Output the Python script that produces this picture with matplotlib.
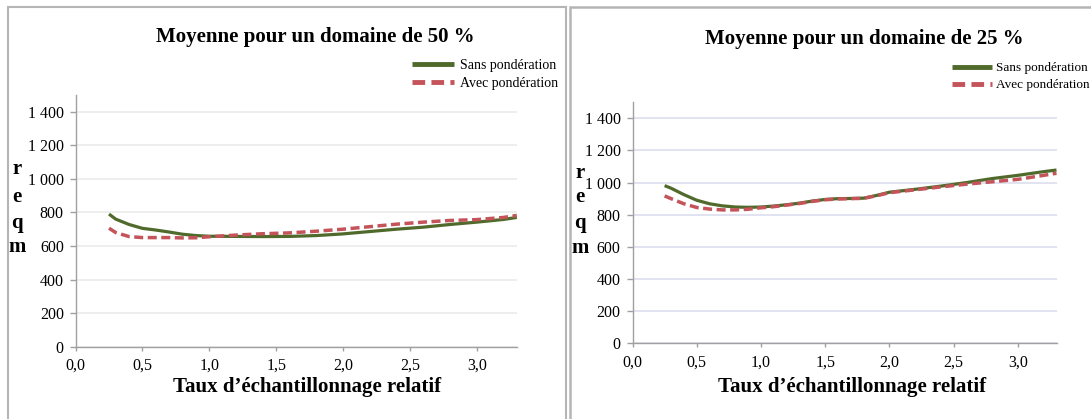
import matplotlib
matplotlib.use("Agg")
import matplotlib.pyplot as plt
from matplotlib.patches import Rectangle
from matplotlib.ticker import FuncFormatter

plt.rcParams['font.family'] = ['Liberation Serif', 'DejaVu Serif']

W, H = 1091, 419

# ---- data ----
x_50 = [0.25, 0.3, 0.4, 0.5, 0.6, 0.7, 0.8, 0.9, 1.0, 1.2, 1.4, 1.6, 1.8, 2.0, 2.2, 2.4, 2.6, 2.8, 3.0, 3.2, 3.3]
sans_50 = [790, 760, 728, 705, 695, 683, 670, 662, 658, 657, 656, 657, 662, 672, 686, 700, 712, 728, 742, 758, 770]
avec_50 = [706, 680, 656, 650, 650, 650, 648, 649, 655, 665, 673, 678, 688, 700, 715, 730, 742, 752, 757, 770, 782]

x_25 = [0.25, 0.3, 0.4, 0.5, 0.6, 0.7, 0.8, 0.9, 1.0, 1.1, 1.2, 1.3, 1.4, 1.5, 1.6, 1.7, 1.8, 1.9, 2.0, 2.2, 2.4, 2.6, 2.8, 3.0, 3.2, 3.3]
sans_25 = [981, 965, 925, 890, 868, 855, 848, 846, 848, 854, 862, 872, 885, 895, 900, 901, 903, 920, 940, 958, 978, 1000, 1025, 1045, 1068, 1078]
avec_25 = [917, 900, 868, 845, 835, 830, 830, 834, 843, 850, 860, 870, 883, 893, 898, 900, 902, 918, 937, 955, 973, 990, 1005, 1020, 1045, 1058]

titles = ["Moyenne pour un domaine de 50 %", "Moyenne pour un domaine de 25 %"]
series_labels = ["Sans pondération", "Avec pondération"]
x_label = "Taux d\u2019échantillonnage relatif"
y_letters = ["r", "e", "q", "m"]
x_ticks = [0.0, 0.5, 1.0, 1.5, 2.0, 2.5, 3.0]
y_ticks = [0, 200, 400, 600, 800, 1000, 1200, 1400]

GREEN = "#4f6a2b"
RED = "#c4545a"

fig = plt.figure(figsize=(W / 100, H / 100), dpi=100)


def fx(px):
    return px / W


def fy(py):
    return 1 - py / H


# panel boxes
fig.patches.append(Rectangle((fx(8), fy(430)), fx(566) - fx(8), fy(7.5) - fy(430),
                             transform=fig.transFigure, fill=False, edgecolor="#b5b5b5", lw=1.5))
fig.patches.append(Rectangle((fx(570), fy(430)), fx(1100) - fx(570), fy(7.5) - fy(430),
                             transform=fig.transFigure, fill=False, edgecolor="#b5b5b5", lw=1.8))

panels = [
    dict(x=x_50, s=sans_50, a=avec_50, ax=(75.6, 516.8, 94.9, 346.7), grid="#ebebeb",
         title_xy=(315, 37), xlabel_xy=(307, 387), yl_x=17, yl_y=[169, 197, 223, 247],
         leg=(412, 58.5), leg_fs=10, leg_pad=0.45, title=titles[0]),
    dict(x=x_25, s=sans_25, a=avec_25, ax=(632.5, 1056.5, 102.2, 343.3), grid="#dcdeef",
         title_xy=(864, 39), xlabel_xy=(852, 387), yl_x=580, yl_y=[173, 197, 223, 248],
         leg=(952, 62), leg_fs=9.5, leg_pad=0.3, title=titles[1]),
]

fmt = FuncFormatter(lambda v, p: f"{int(v):,}".replace(",", " "))
xfmt = FuncFormatter(lambda v, p: f"{v:.1f}".replace(".", ","))

for p in panels:
    l, r, t, b = p["ax"]
    ax = fig.add_axes([fx(l), fy(b), fx(r) - fx(l), fy(t) - fy(b)])
    ax.set_xlim(0, 3.3)
    ax.set_ylim(0, 1500)
    ax.set_xticks(x_ticks)
    ax.set_yticks(y_ticks)
    ax.yaxis.set_major_formatter(fmt)
    ax.xaxis.set_major_formatter(xfmt)
    for s in ["top", "right"]:
        ax.spines[s].set_visible(False)
    for s in ["left", "bottom"]:
        ax.spines[s].set_color("#a0a0a0")
        ax.spines[s].set_linewidth(1.0)
    ax.tick_params(axis="y", length=4.5, width=1, color="#a0a0a0", pad=4, labelsize=11.5)
    ax.tick_params(axis="x", length=3, width=1, color="#a0a0a0", pad=5, labelsize=11.5)
    ax.grid(axis="y", color=p["grid"], lw=1.2)
    ax.set_axisbelow(True)
    ax.set_facecolor("none")
    l1, = ax.plot(p["x"], p["s"], color=GREEN, lw=2.3, solid_capstyle="butt", label=series_labels[0])
    l2, = ax.plot(p["x"], p["a"], color=RED, lw=2.5, linestyle=(0, (2.6, 1.3)), label=series_labels[1])

    fig.text(fx(p["title_xy"][0]), fy(p["title_xy"][1]), p["title"], ha="center", va="center",
             fontsize=15, fontweight="bold")
    fig.text(fx(p["xlabel_xy"][0]), fy(p["xlabel_xy"][1]), x_label, ha="center", va="center",
             fontsize=15, fontweight="bold")
    for ch, yy in zip(y_letters, p["yl_y"]):
        fig.text(fx(p["yl_x"]), fy(yy), ch, ha="center", va="center", fontsize=15, fontweight="bold")

    lx, ly = p["leg"]
    leg = fig.legend(handles=[l1, l2], labels=series_labels, loc="upper left",
                     bbox_to_anchor=(fx(lx), fy(ly)), bbox_transform=fig.transFigure,
                     frameon=False, fontsize=p["leg_fs"], handlelength=3.0, handletextpad=p["leg_pad"],
                     labelspacing=0.38, borderpad=0, borderaxespad=0)
    for h in leg.legend_handles:
        h.set_linewidth(3.5)

fig.savefig("out.png", dpi=100)
